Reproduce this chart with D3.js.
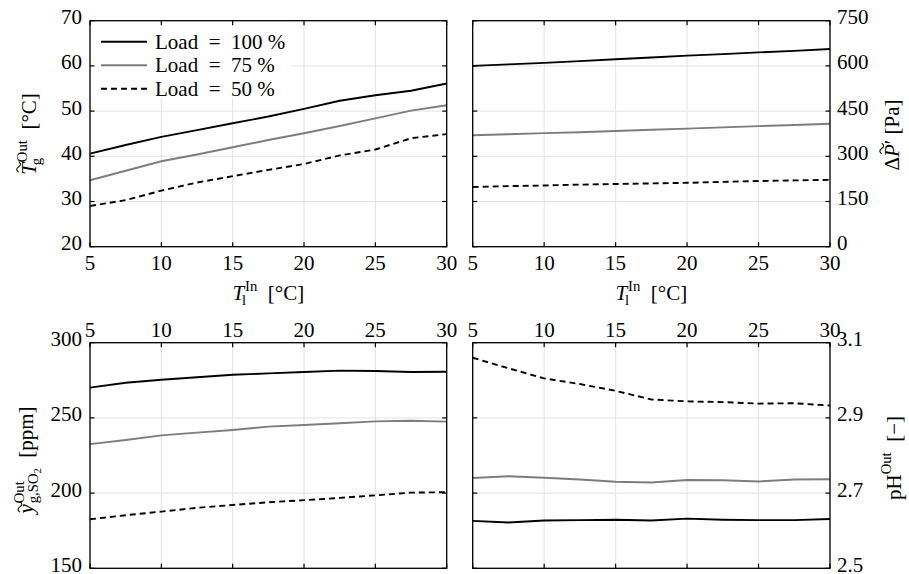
<!DOCTYPE html>
<html>
<head>
<meta charset="utf-8">
<script src="https://cdn.jsdelivr.net/npm/d3@7"></script>
<style>
  html, body { margin: 0; padding: 0; background: #fff; }
  svg { display: block; }
</style>
</head>
<body>
<svg id="chart" width="909" height="574"></svg>
<script>
// ---------------- DATA ----------------
const tempIn = [5, 7.5, 10, 12.5, 15, 17.5, 20, 22.5, 25, 27.5, 30];
const seriesNames = ["Load = 100 %", "Load = 75 %", "Load = 50 %"];

const tgOut100 = [40.6, 42.5, 44.3, 45.8, 47.3, 48.8, 50.5, 52.3, 53.5, 54.5, 56.1];
const tgOut75  = [34.7, 36.8, 38.9, 40.4, 42.0, 43.6, 45.1, 46.7, 48.4, 50.1, 51.3];
const tgOut50  = [29.0, 30.3, 32.4, 34.2, 35.6, 37.0, 38.3, 40.2, 41.5, 44.0, 44.9];

const dp100 = [600, 605, 610, 616, 622, 628, 634, 639, 645, 650, 656];
const dp75  = [370, 373, 377, 380, 384, 388, 392, 396, 400, 404, 408];
const dp50  = [198, 201, 203, 206, 208, 210, 212, 215, 218, 220, 222];

const so2_100 = [270.1, 273.4, 275.4, 277.0, 278.7, 279.6, 280.5, 281.4, 281.2, 280.5, 280.7];
const so2_75  = [232.6, 235.3, 238.4, 240.2, 242.0, 244.2, 245.3, 246.4, 247.7, 248.1, 247.5];
const so2_50  = [182.6, 185.3, 187.7, 190.2, 192.1, 193.9, 195.3, 196.8, 198.5, 200.3, 200.6];

const ph100 = [2.626, 2.622, 2.627, 2.628, 2.629, 2.627, 2.632, 2.629, 2.628, 2.628, 2.631];
const ph75  = [2.740, 2.745, 2.741, 2.736, 2.730, 2.728, 2.735, 2.734, 2.731, 2.736, 2.737];
const ph50  = [3.060, 3.032, 3.005, 2.990, 2.972, 2.949, 2.944, 2.942, 2.938, 2.939, 2.933];

const xTicks = [5, 10, 15, 20, 25, 30];
const yTicksA = [20, 30, 40, 50, 60, 70];
const yTicksB = [0, 150, 300, 450, 600, 750];
const yTicksC = [150, 200, 250, 300];
const yTicksD = [2.5, 2.7, 2.9, 3.1];

// ---------------- FONT PICK ----------------
const candidates = ["Liberation Serif", "Tinos", "Times New Roman", "Noto Serif", "DejaVu Serif", "FreeSerif", "Nimbus Roman", "Times"];
const cvs = document.createElement("canvas").getContext("2d");
function widthOf(f) { cvs.font = "40px " + f; return cvs.measureText("Load = 100 % 0123456789 ilmwW").width; }
const baseMono = widthOf("monospace"), baseSans = widthOf("sans-serif");
let chosen = null;
for (const c of candidates) {
  const w1 = widthOf(`'${c}', monospace`), w2 = widthOf(`'${c}', sans-serif`);
  if (Math.abs(w1 - baseMono) > 0.5 && Math.abs(w2 - baseSans) > 0.5) { chosen = c; break; }
}
const FONT = chosen ? `'${chosen}', serif` : "serif";

// ---------------- STYLE ----------------
const FS = 21;
const styles = [
  { color: "#000000", dash: null },
  { color: "#7d7d7d", dash: null },
  { color: "#000000", dash: "6,4" }
];

const svg = d3.select("#chart").attr("font-family", FONT);

const L1 = 90, R1 = 446.7, L2 = 472.7, R2 = 830;
const T1 = 20.7, B1 = 246.7, T2 = 342.7, B2 = 568.3;

function mathLabel(parent, parts, fs) {
  const g = parent.append("g");
  let x = 0, lastStart = 0;
  parts.forEach(p => {
    let size = fs, y = 0;
    if (p.sup) { size = fs * 0.7; y = -fs * 0.45; }
    if (p.sub) { size = fs * 0.7; y = fs * 0.25; }
    if (p.subsub) { size = fs * 0.5; y = fs * 0.38; }
    const px = (p.stack ? lastStart : x) + (p.dx || 0);
    const t = g.append("text")
      .attr("x", px).attr("y", y)
      .attr("font-size", size)
      .attr("font-style", p.it ? "italic" : "normal")
      .attr("xml:space", "preserve")
      .style("white-space", "pre")
      .text(p.t);
    const w = t.node().getComputedTextLength();
    if (p.tilde) {
      const tw = size * 0.5, th = size * 0.09;
      const cx = px + w / 2 + (p.it ? size * 0.1 : 0);
      const ty = y - size * (p.tildeUp || 0.86);
      g.append("path")
        .attr("d", `M${cx - tw / 2},${ty + th * 0.3} q${tw / 4},${-th * 2} ${tw / 2},0 t${tw / 2},0`)
        .attr("fill", "none").attr("stroke", "#000").attr("stroke-width", 1.1);
    }
    if (p.stack) { x = Math.max(x, px + w); }
    else { lastStart = px; x = px + w; }
  });
  return g;
}

function placeCentered(g, cx, cy, rotate) {
  const bb = g.node().getBBox();
  const mx = bb.x + bb.width / 2, my = bb.y + bb.height / 2;
  g.attr("transform", `translate(${cx},${cy}) rotate(${rotate || 0}) translate(${-mx},${-my})`);
}

function panel(opts) {
  const { left, right, top, bottom, yDomain, yTicks, yFmt, data, yAxisRight, xLabelsTop, xLabelsBottom } = opts;
  const x = d3.scaleLinear().domain([5, 30]).range([left, right]);
  const y = d3.scaleLinear().domain(yDomain).range([bottom, top]);
  const g = svg.append("g");

  g.append("g").selectAll("line").data(xTicks).join("line")
    .attr("x1", d => x(d)).attr("x2", d => x(d)).attr("y1", top).attr("y2", bottom)
    .attr("stroke", "#e3e3e3").attr("stroke-width", 1);
  g.append("g").selectAll("line").data(yTicks).join("line")
    .attr("x1", left).attr("x2", right).attr("y1", d => y(d)).attr("y2", d => y(d))
    .attr("stroke", "#e3e3e3").attr("stroke-width", 1);

  const line = d3.line().x((d, i) => x(tempIn[i])).y(d => y(d)).curve(d3.curveLinear);
  data.forEach((s, k) => {
    g.append("path").datum(s)
      .attr("d", line)
      .attr("fill", "none")
      .attr("stroke", styles[k].color)
      .attr("stroke-width", 1.9)
      .attr("stroke-dasharray", styles[k].dash);
  });

  if (opts.legend) {
    g.append("rect").attr("x", left + 0.5).attr("y", top + 0.5).attr("width", 200).attr("height", 77)
      .attr("fill", "#fff");
    seriesNames.forEach((nm, k) => {
      const ly = top + 21 + k * 23.5;
      g.append("line").attr("x1", left + 11).attr("x2", left + 57).attr("y1", ly).attr("y2", ly)
        .attr("stroke", styles[k].color).attr("stroke-width", 1.9)
        .attr("stroke-dasharray", styles[k].dash);
      g.append("text").attr("x", left + 65).attr("y", ly + 7)
        .attr("font-size", FS).attr("xml:space", "preserve").style("white-space", "pre")
        .text(nm.replace("=", " = "));
    });
  }

  g.append("rect").attr("x", left).attr("y", top).attr("width", right - left).attr("height", bottom - top)
    .attr("fill", "none").attr("stroke", "#000").attr("stroke-width", 1.3);

  const tl = 4.5;
  xTicks.forEach(t => {
    g.append("line").attr("x1", x(t)).attr("x2", x(t)).attr("y1", bottom).attr("y2", bottom - tl).attr("stroke", "#000").attr("stroke-width", 1.2);
    g.append("line").attr("x1", x(t)).attr("x2", x(t)).attr("y1", top).attr("y2", top + tl).attr("stroke", "#000").attr("stroke-width", 1.2);
  });
  yTicks.forEach(t => {
    g.append("line").attr("x1", left).attr("x2", left + tl).attr("y1", y(t)).attr("y2", y(t)).attr("stroke", "#000").attr("stroke-width", 1.2);
    g.append("line").attr("x1", right).attr("x2", right - tl).attr("y1", y(t)).attr("y2", y(t)).attr("stroke", "#000").attr("stroke-width", 1.2);
  });

  if (xLabelsBottom) {
    g.append("g").selectAll("text").data(xTicks).join("text")
      .attr("x", d => x(d)).attr("y", bottom + 23)
      .attr("text-anchor", "middle").attr("font-size", FS).text(d => d);
  }
  if (xLabelsTop) {
    g.append("g").selectAll("text").data(xTicks).join("text")
      .attr("x", d => x(d)).attr("y", top - 6)
      .attr("text-anchor", "middle").attr("font-size", FS).text(d => d);
  }
  g.append("g").selectAll("text").data(yTicks).join("text")
    .attr("x", yAxisRight ? right + 7 : left - 8)
    .attr("y", d => y(d)).attr("dy", "0.17em")
    .attr("text-anchor", yAxisRight ? "start" : "end")
    .attr("font-size", FS).text(d => yFmt(d));

  return { x, y };
}

const fmtInt = d3.format("d");
const fmt1 = d3.format(".1f");

panel({ left: L1, right: R1, top: T1, bottom: B1, yDomain: [20, 70], yTicks: yTicksA, yFmt: fmtInt,
  data: [tgOut100, tgOut75, tgOut50], yAxisRight: false, xLabelsBottom: true, legend: true });
panel({ left: L2, right: R2, top: T1, bottom: B1, yDomain: [0, 750], yTicks: yTicksB, yFmt: fmtInt,
  data: [dp100, dp75, dp50], yAxisRight: true, xLabelsBottom: true });
panel({ left: L1, right: R1, top: T2, bottom: B2, yDomain: [150, 300], yTicks: yTicksC, yFmt: fmtInt,
  data: [so2_100, so2_75, so2_50], yAxisRight: false, xLabelsTop: true });
panel({ left: L2, right: R2, top: T2, bottom: B2, yDomain: [2.5, 3.1], yTicks: yTicksD, yFmt: fmt1,
  data: [ph100, ph75, ph50], yAxisRight: true, xLabelsTop: true });

// ---------------- AXIS TITLES ----------------
const xLabParts = [{ t: "T", it: true }, { t: "In", sup: true, dx: 1 }, { t: "l", sub: true, stack: true, dx: -3 }, { t: "  [°C]" }];
placeCentered(mathLabel(svg, xLabParts, FS), (L1 + R1) / 2, 293, 0);
placeCentered(mathLabel(svg, xLabParts, FS), (L2 + R2) / 2, 293, 0);

placeCentered(mathLabel(svg, [{ t: "T", it: true, tilde: true }, { t: "Out", sup: true, dx: 1 }, { t: "g", sub: true, stack: true, dx: -3 }, { t: "  [°C]" }], FS), 29, 134, -90);
placeCentered(mathLabel(svg, [{ t: "Δ" }, { t: "P", it: true, tilde: true }, { t: "′" }, { t: " [Pa]" }], FS), 892, 135, -90);
placeCentered(mathLabel(svg, [{ t: "y", it: true, tilde: true, tildeUp: 0.66 }, { t: "Out", sup: true, dx: 1 }, { t: "g,SO", sub: true, stack: true }, { t: "2", subsub: true }, { t: "  [ppm]" }], FS), 27, 461, -90);
placeCentered(mathLabel(svg, [{ t: "pH" }, { t: "Out", sup: true }, { t: "  [−]" }], FS), 892, 458, -90);
</script>
</body>
</html>
